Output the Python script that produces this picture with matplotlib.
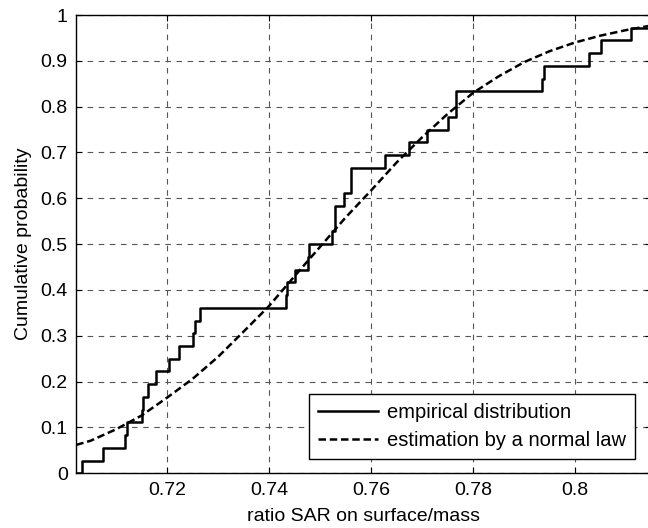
"""
Empirical distribution of the SAR ratio (surface/mass) against a normal law fit.
"""

import numpy as np
import matplotlib
matplotlib.use("Agg")
import matplotlib.pyplot as plt

plt.rcParams['font.family'] = ['Liberation Sans', 'DejaVu Sans']

# sorted samples of the ratio (last one is past the right edge)
samples = [0.70325, 0.70746, 0.71168, 0.71220, 0.71510, 0.71530, 0.71622, 0.71792,
           0.72032, 0.72227, 0.72500, 0.72539, 0.72649, 0.74324, 0.74350, 0.74519,
           0.74759, 0.74778, 0.75233, 0.75298, 0.75300, 0.75475, 0.75607, 0.75610,
           0.76275, 0.76753, 0.77094, 0.77507, 0.77672, 0.77675, 0.79356, 0.79390,
           0.80281, 0.80511, 0.81101, 0.81800]

# dashed normal-law curve
normal_x = [0.7022, 0.705, 0.710, 0.715, 0.720, 0.725, 0.730, 0.735, 0.740, 0.745,
            0.750, 0.755, 0.760, 0.765, 0.770, 0.775, 0.780, 0.785, 0.790, 0.795,
            0.800, 0.805, 0.810, 0.8149]
normal_y = [0.062, 0.071, 0.096, 0.126, 0.165, 0.206, 0.254, 0.309, 0.365, 0.430,
            0.494, 0.558, 0.617, 0.678, 0.733, 0.784, 0.830, 0.866, 0.897, 0.921,
            0.940, 0.955, 0.967, 0.977]

xticks = [0.72, 0.74, 0.76, 0.78, 0.80]
xtick_labels = ["0.72", "0.74", "0.76", "0.78", "0.8"]
yticks = [0, 0.1, 0.2, 0.3, 0.4, 0.5, 0.6, 0.7, 0.8, 0.9, 1.0]
ytick_labels = ["0", "0.1", "0.2", "0.3", "0.4", "0.5", "0.6", "0.7", "0.8", "0.9", "1"]

xmin, xmax = 0.70215, 0.8149

fig = plt.figure(figsize=(6.48, 5.28), dpi=100)
ax = fig.add_axes([76 / 648, (528 - 473.3) / 528, 575 / 648, 458.3 / 528])

n = len(samples)
levels = np.arange(1, n + 1) / n
ax.step([xmin] + samples, [0] + list(levels), where='post', color='black',
        linewidth=1.8, label='empirical distribution')
ax.plot(normal_x, normal_y, color='black', linestyle=(0, (3, 1.5)), linewidth=1.8,
        label='estimation by a normal law')

ax.set_xlim(xmin, xmax)
ax.set_ylim(0, 1)
ax.set_xticks(xticks)
ax.set_xticklabels(xtick_labels)
ax.set_yticks(yticks)
ax.set_yticklabels(ytick_labels)
ax.tick_params(direction='in', length=4, labelsize=14, top=True, right=True, pad=6)

ax.grid(True, color='#555555', linestyle=(0, (5, 5)), linewidth=0.8)
ax.set_axisbelow(True)
for sp in ax.spines.values():
    sp.set_linewidth(1.0)

ax.set_xlabel('ratio SAR on surface/mass', fontsize=14, labelpad=7)
ax.set_ylabel('Cumulative probability', fontsize=14, labelpad=6)

leg = ax.legend(loc='upper left', bbox_to_anchor=(309 / 648, 1 - 394 / 528),
                bbox_transform=fig.transFigure,
                fontsize=14.5, frameon=True, fancybox=False, edgecolor='black',
                framealpha=1, borderpad=0.45, labelspacing=0.45, handlelength=3.0,
                handletextpad=0.4, borderaxespad=0)
leg.get_frame().set_linewidth(1.0)

fig.savefig('out.png', dpi=100)
